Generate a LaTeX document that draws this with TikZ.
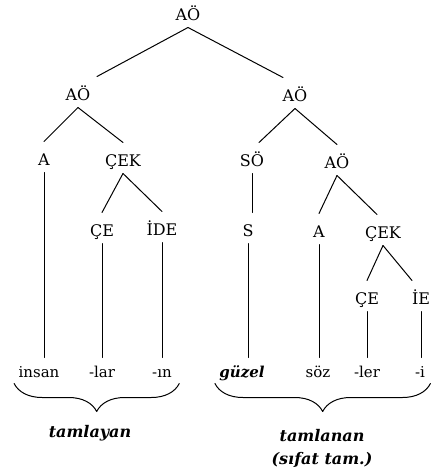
\documentclass[tikz,border=0pt]{standalone}
\usepackage{fontspec}
\setmainfont{DejaVu Serif}
\usetikzlibrary{decorations.pathreplacing}
\begin{document}
\begin{tikzpicture}[x=1pt,y=-1pt, line join=round, line cap=round, line width=1pt,
	etiket/.style={font=\fontsize{16}{16}\selectfont, inner sep=0pt, anchor=base, text height=23pt, text depth=7pt},
	kelime/.style={font=\fontsize{15}{15}\selectfont, inner sep=0pt, anchor=base, text height=19pt, text depth=6pt},
	vurgu/.style={font=\fontsize{16}{23}\selectfont\bfseries\itshape, inner sep=0pt, align=center},
	kume/.style={decorate, decoration={brace, mirror, amplitude=28pt}}]
	\useasboundingbox (0,0) rectangle (432,471);
	%%Düğümler
	\node[etiket] (root) at (188,20) {AÖ};
	\node[etiket] (aoL) at (78,100) {AÖ};
	\node[etiket] (aoR) at (295,101) {AÖ};
	\node[etiket] (aL) at (44,165) {A};
	\node[etiket] (cekL) at (123,166) {ÇEK};
	\node[etiket] (so) at (252,166) {SÖ};
	\node[etiket] (aoR2) at (337,168) {AÖ};
	\node[etiket] (ceL) at (102,236) {ÇE};
	\node[etiket] (ideL) at (162,235) {İDE};
	\node[etiket] (sR) at (248,236) {S};
	\node[etiket] (aR) at (319,237) {A};
	\node[etiket] (cekR) at (383,238) {ÇEK};
	\node[etiket] (ceR) at (367,304) {ÇE};
	\node[etiket] (ieR) at (421,304) {İE};
	%%Kelimeler
	\node[kelime] (insan) at (39,377) {insan};
	\node[kelime] (lar) at (102,377) {-lar};
	\node[kelime] (in) at (162,377) {-ın};
	\node[kelime, font=\fontsize{15}{15}\selectfont\bfseries\itshape] (guzel) at (242,377) {güzel};
	\node[kelime] (soz) at (318,377) {söz};
	\node[kelime] (ler) at (367,377) {-ler};
	\node[kelime] (i) at (420,377) {-i};
	%%Dallar
	\draw (root.south) -- ([xshift=19pt]aoL.north);
	\draw (root.south) -- ([xshift=-12pt]aoR.north);
	\draw (aoL.south) -- (aL.north);
	\draw (aoL.south) -- (cekL.north);
	\draw (aoR.south) -- ([xshift=7pt]so.north);
	\draw (aoR.south) -- (aoR2.north);
	\draw (so.south) -- (so.south |- sR.north);
	\draw (cekL.south) -- (ceL.north);
	\draw (cekL.south) -- (ideL.north);
	\draw (aoR2.south) -- (aR.north);
	\draw (aoR2.south) -- ([xshift=-6pt]cekR.north);
	\draw (cekR.south) -- (ceR.north);
	\draw (cekR.south) -- ([xshift=-9pt]ieR.north);
	\draw (aL.south) -- (aL.south |- insan.north);
	\draw (ceL.south) -- (ceL.south |- lar.north);
	\draw (ideL.south) -- (ideL.south |- in.north);
	\draw (sR.south) -- (sR.south |- guzel.north);
	\draw (aR.south) -- (aR.south |- soz.north);
	\draw (ceR.south) -- (ceR.south |- ler.north);
	\draw (ieR.south) -- (ieR.south |- i.north);
	%%Parantezler
	\draw[kume] ([xshift=-4pt]insan.south west) -- ([xshift=7pt]in.south east);
	\draw[kume] ([xshift=-4pt]guzel.south west) -- ([xshift=5pt]i.south east);
	\node[vurgu] (tamlayan) at (90,433) {tamlayan};
	\node[vurgu] (tamlanan) at (322,448) {tamlanan\\(sıfat tam.)};
\end{tikzpicture}
\end{document}
